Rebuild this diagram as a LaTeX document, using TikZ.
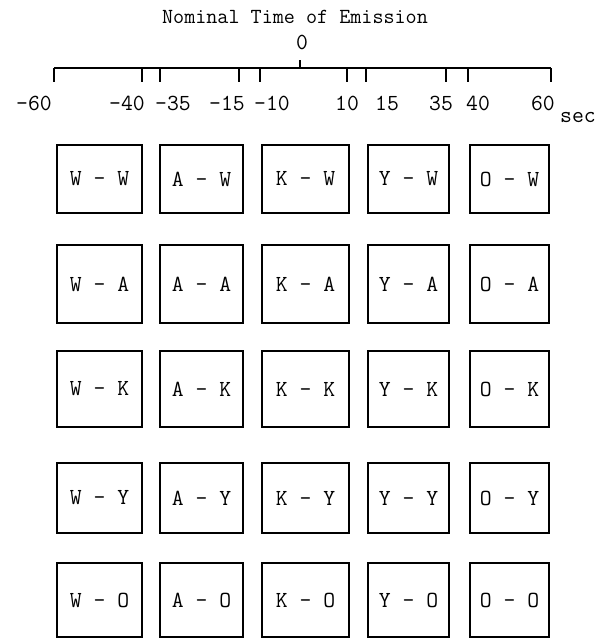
\documentclass[tikz,border=0pt]{standalone}
\usepackage{fontspec}
\begin{document}
\begin{tikzpicture}[x=1pt,y=-1pt,
  lbl/.style={font=\ttfamily\fontsize{23}{25}\selectfont, inner sep=0pt, anchor=center},
  ttl/.style={font=\ttfamily\fontsize{21.5}{23}\selectfont, inner sep=0pt, anchor=center},
  cell/.style={draw, line width=1.7pt, inner sep=0pt, font=\ttfamily\fontsize{23}{25}\selectfont},
  axisline/.style={line width=1.7pt},
  tickline/.style={line width=1.6pt}]
\useasboundingbox (0,0) rectangle (597,638);
% title
\node[ttl] (title) at (295,17) {Nominal Time of Emission};
\node[lbl] (zero) at (302,42) {0};
% axis
\coordinate (aL) at (54,68);
\coordinate (aR) at (551,68);
\draw[axisline] (aL) -- (aR);
\coordinate (z0) at (300,68);
\coordinate (z1) at (300,60);
\draw[tickline] (z0) -- (z1);
\foreach \x/\n in {54/t1,142/t2,160/t3,239/t4,260/t5,347/t6,366/t7,446/t8,468/t9,551/t10}{
  \coordinate (\n a) at (\x,68);
  \coordinate (\n b) at (\x,82);
  \draw[tickline] (\n a) -- (\n b);
}
% axis labels
\foreach \x/\t/\n in {34/{–60}/l1,127/{–40}/l2,173/{–35}/l3,227/{–15}/l4,272/{–10}/l5,347/{10}/l6,387/{15}/l7,441/{35}/l8,478/{40}/l9,543/{60}/l10}{
  \node[lbl] (\n) at (\x,103) {\t};
}
\node[lbl] (sec) at (578,118) {sec};
% boxes
\foreach \l/\r/\c [count=\i] in {57/142/W,160/243/A,262/349/K,368/449/Y,470/549/O}{
  \foreach \tp/\bt/\d [count=\j] in {145/213/W,245/323/A,351/427/K,463/533/Y,563/637/O}{
    \pgfmathsetmacro{\cx}{(\l+\r)/2}
    \pgfmathsetmacro{\cy}{(\tp+\bt)/2}
    \pgfmathsetmacro{\w}{\r-\l}
    \pgfmathsetmacro{\h}{\bt-\tp}
    \node[cell, minimum width=\w pt, minimum height=\h pt] (b\i\j) at (\cx,\cy) {\c{} - \d};
  }
}
\end{tikzpicture}
\end{document}
